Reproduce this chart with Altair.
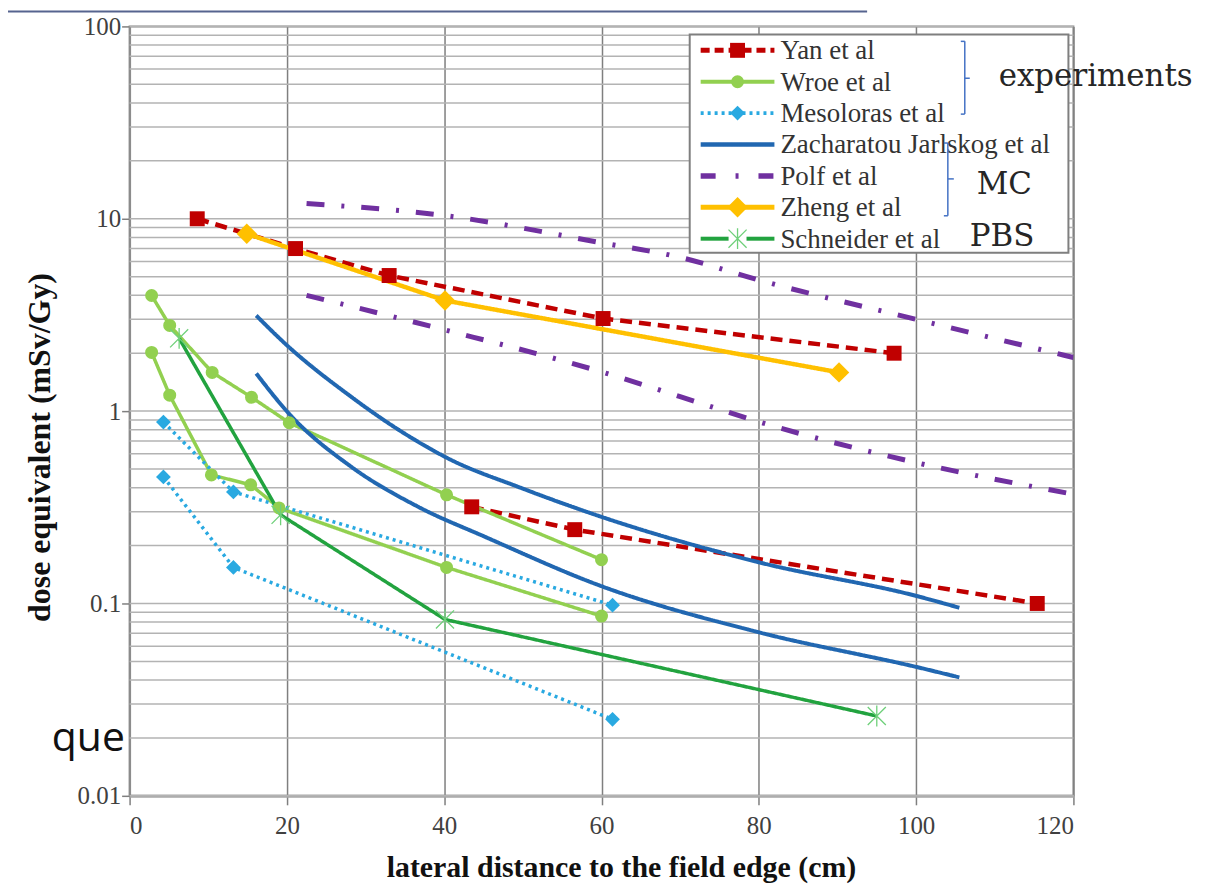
import altair as alt
import pandas as pd

# ---------------- data ----------------
series_names = ["Yan et al", "Wroe et al", "Mesoloras et al",
                "Zacharatou Jarlskog et al", "Polf et al", "Zheng et al",
                "Schneider et al"]

yan_a_x = [8.6, 21.1, 33.0, 60.2, 97.2]
yan_a_y = [10.0, 7.0, 5.07, 3.03, 2.0]
yan_b_x = [43.5, 56.6, 115.4]
yan_b_y = [0.318, 0.242, 0.10]

wroe_a_x = [2.8, 5.1, 10.5, 15.5, 20.3, 40.3, 60.0]
wroe_a_y = [3.99, 2.79, 1.59, 1.18, 0.87, 0.367, 0.169]
wroe_b_x = [2.8, 5.1, 10.4, 15.4, 19.0, 40.3, 60.0]
wroe_b_y = [2.02, 1.21, 0.466, 0.414, 0.314, 0.154, 0.086]

meso_a_x = [4.3, 13.2, 61.4]
meso_a_y = [0.877, 0.38, 0.098]
meso_b_x = [4.3, 13.2, 61.4]
meso_b_y = [0.455, 0.154, 0.025]

zach_a_x = [16.1, 20.0, 27.9, 34.2, 40.9, 49.4, 60.0, 80.2, 100.2, 105.5]
zach_a_y = [3.14, 2.2, 1.21, 0.80, 0.557, 0.404, 0.282, 0.163, 0.109, 0.095]
zach_b_x = [16.1, 20.2, 28.2, 36.7, 45.2, 60.0, 80.2, 100.2, 105.5]
zach_b_y = [1.57, 0.977, 0.513, 0.318, 0.222, 0.123, 0.0705, 0.0466, 0.0413]

polf_a_x = [22.5, 40.0, 60.0, 70.0, 80.0, 100.0, 120.0]
polf_a_y = [12.0, 10.4, 7.5, 6.3, 4.8, 3.0, 1.9]
polf_b_x = [22.5, 40.0, 60.0, 70.0, 80.0, 100.0, 120.0]
polf_b_y = [4.0, 2.65, 1.6, 1.19, 0.88, 0.54, 0.37]

zheng_x = [14.9, 40.1, 90.2]
zheng_y = [8.36, 3.76, 1.59]

schn_x = [6.3, 19.2, 40.1, 95.0]
schn_y = [2.39, 0.289, 0.0826, 0.026]

x_ticks = [0, 20, 40, 60, 80, 100, 120]
y_ticks = [0.01, 0.1, 1, 10, 100]
y_grid = [m * 10.0 ** e for e in (-2, -1, 0, 1) for m in range(1, 10)] + [100]

annot_experiments = "experiments"
annot_mc = "MC"
annot_pbs = "PBS"
annot_que = "que"

# ---------------- styles ----------------
colors = {"Yan et al": "#c00000", "Wroe et al": "#92d050",
          "Mesoloras et al": "#29a9e1", "Zacharatou Jarlskog et al": "#2167b1",
          "Polf et al": "#7030a0", "Zheng et al": "#ffc000",
          "Schneider et al": "#22a33f"}
dashes = {"Yan et al": [12, 7], "Wroe et al": [1, 0], "Mesoloras et al": [3, 4],
          "Zacharatou Jarlskog et al": [1, 0], "Polf et al": [18, 17, 3, 17],
          "Zheng et al": [1, 0], "Schneider et al": [1, 0]}
legend_dashes = {"Yan et al": [9, 5], "Polf et al": [15, 20, 3, 20]}
widths = {"Yan et al": 4.5, "Wroe et al": 3.5, "Mesoloras et al": 3.5,
          "Zacharatou Jarlskog et al": 4, "Polf et al": 5, "Zheng et al": 4.5,
          "Schneider et al": 3.5}
smooth = {"Zacharatou Jarlskog et al", "Polf et al"}
markers = {"Yan et al": ("square", 225), "Wroe et al": ("circle", 170),
           "Mesoloras et al": ("diamond", 220), "Zheng et al": ("diamond", 420),
           "Schneider et al": ("asterisk", 330)}
ASTERISK = "M-1,-1L1,1M-1,1L1,-1M0,-1.15L0,1.15"

segments = [
    ("Yan et al", "a", yan_a_x, yan_a_y), ("Yan et al", "b", yan_b_x, yan_b_y),
    ("Wroe et al", "a", wroe_a_x, wroe_a_y), ("Wroe et al", "b", wroe_b_x, wroe_b_y),
    ("Mesoloras et al", "a", meso_a_x, meso_a_y), ("Mesoloras et al", "b", meso_b_x, meso_b_y),
    ("Zacharatou Jarlskog et al", "a", zach_a_x, zach_a_y),
    ("Zacharatou Jarlskog et al", "b", zach_b_x, zach_b_y),
    ("Polf et al", "a", polf_a_x, polf_a_y), ("Polf et al", "b", polf_b_x, polf_b_y),
    ("Zheng et al", "a", zheng_x, zheng_y),
    ("Schneider et al", "a", schn_x, schn_y),
]
rows = []
for name, seg, xs, ys in segments:
    for xv, yv in zip(xs, ys):
        rows.append({"series": name, "seg": name + seg, "x": xv, "y": yv})
df = pd.DataFrame(rows)

SERIF = "Liberation Serif"

x_axis = alt.Axis(values=x_ticks, title="lateral distance to the field edge (cm)",
                  labelFont=SERIF, labelFontSize=25, labelColor="#404040",
                  labelPadding=9, tickSize=9, tickColor="#7f7f7f", tickWidth=1.5,
                  grid=True, gridColor="#7f7f7f", gridWidth=1.5,
                  domainColor="#a6a6a6", domainWidth=3,
                  titleFont=SERIF, titleFontSize=30, titleFontWeight="bold",
                  titleColor="#111111", titleX=493, titleY=72,
                  titleAlign="center", titleBaseline="middle")
y_axis = alt.Axis(values=y_ticks, format="~g", title="dose equivalent (mSv/Gy)",
                  labelFont=SERIF, labelFontSize=25, labelColor="#404040",
                  labelPadding=1, tickSize=8, tickColor="#7f7f7f", tickWidth=1.5,
                  grid=False, domainColor="#8c8c8c", domainWidth=2,
                  titleFont=SERIF, titleFontSize=32, titleFontWeight="bold",
                  titleColor="#111111", titleX=-90, titleY=422, titleAngle=270,
                  titleAlign="center", titleBaseline="middle")
x_scale = alt.Scale(domain=[0, 120], nice=False, zero=False)
y_scale = alt.Scale(type="log", domain=[0.01, 100], nice=False)

layers = []

# horizontal grid lines (log decades with 1..9 subdivisions)
grid_df = pd.DataFrame({"y": y_grid})
layers.append(alt.Chart(grid_df).mark_rule(color="#b3b3b3", strokeWidth=1.5).encode(
    y=alt.Y("y:Q", scale=y_scale, axis=y_axis)))

# series lines
for name in series_names:
    sub = df[df.series == name]
    layers.append(alt.Chart(sub).mark_line(
        color=colors[name], strokeDash=dashes[name], strokeWidth=widths[name],
        interpolate="monotone" if name in smooth else "linear", clip=True
    ).encode(x=alt.X("x:Q", scale=x_scale, axis=x_axis),
             y=alt.Y("y:Q", scale=y_scale, axis=y_axis),
             detail="seg:N"))

# series markers
for name in series_names:
    if name not in markers:
        continue
    shape, size = markers[name]
    sub = df[df.series == name]
    if shape == "asterisk":
        mk = alt.Chart(sub).mark_point(shape=ASTERISK, size=size, filled=False,
                                       stroke="#6fd07a", strokeWidth=1.3, opacity=1)
    else:
        mk = alt.Chart(sub).mark_point(shape=shape, size=size, filled=True,
                                       color=colors[name], opacity=1)
    layers.append(mk.encode(x=alt.X("x:Q", scale=x_scale, axis=x_axis),
                            y=alt.Y("y:Q", scale=y_scale, axis=y_axis)))

# ---------------- legend box ----------------
one = pd.DataFrame({"k": [0]})
layers.append(alt.Chart(one).mark_rect(fill="white", stroke="#7f7f7f", strokeWidth=2).encode(
    x=alt.value(562), x2=alt.value(942), y=alt.value(8), y2=alt.value(227)))

LX0, LX1, LXM, LXT = 573, 647, 610, 653
for i, name in enumerate(series_names):
    ly = 24 + i * 31.5
    if name == "Schneider et al":
        for a, b in ((LX0, LXM - 9), (LXM + 9, LX1)):
            layers.append(alt.Chart(one).mark_rule(
                color=colors[name], strokeWidth=widths[name] + 0.5).encode(
                x=alt.value(a), x2=alt.value(b), y=alt.value(ly)))
    else:
        ldash = legend_dashes.get(name, dashes[name])
        layers.append(alt.Chart(one).mark_rule(
            color=colors[name], strokeWidth=widths[name] + 0.5, strokeDash=ldash).encode(
            x=alt.value(LX0), x2=alt.value(LX1), y=alt.value(ly)))
    if name in markers:
        shape, size = markers[name]
        if shape == "asterisk":
            mk = alt.Chart(one).mark_point(shape=ASTERISK, size=size, filled=False,
                                           stroke="#6fd07a", strokeWidth=1.3, opacity=1)
        else:
            mk = alt.Chart(one).mark_point(shape=shape, size=size, filled=True,
                                           color=colors[name], opacity=1)
        layers.append(mk.encode(x=alt.value(LXM), y=alt.value(ly)))
    layers.append(alt.Chart(pd.DataFrame({"t": [name]})).mark_text(
        font=SERIF, fontSize=27, color="#333333", align="left", baseline="middle"
    ).encode(x=alt.value(LXT), y=alt.value(ly + 1), text="t:N"))

# ---------------- annotations ----------------
BR = "#4472c4"
def rule_h(x0, x1, y, color=BR, w=1.5):
    return alt.Chart(one).mark_rule(color=color, strokeWidth=w).encode(
        x=alt.value(x0), x2=alt.value(x1), y=alt.value(y))

def rule_v(x, y0, y1, color=BR, w=1.5):
    return alt.Chart(one).mark_rule(color=color, strokeWidth=w).encode(
        x=alt.value(x), y=alt.value(y0), y2=alt.value(y1))

layers += [rule_v(838, 15, 88), rule_h(834, 838, 15), rule_h(834, 838, 88), rule_h(838, 843, 52),
           rule_v(821, 117, 190), rule_h(817, 821, 117), rule_h(817, 821, 190), rule_h(821, 827, 153)]

def label(t, x, y, font, size, color="#262626"):
    return alt.Chart(pd.DataFrame({"t": [t]})).mark_text(
        font=font, fontSize=size, color=color, align="left", baseline="alphabetic"
    ).encode(x=alt.value(x), y=alt.value(y), text="t:N")

layers += [label(annot_experiments, 872, 60, "DejaVu Serif", 31),
           label(annot_mc, 850, 168, "DejaVu Serif", 31),
           label(annot_pbs, 843, 220, "DejaVu Serif", 31),
           label(annot_que, -78, 727, "Open Sans", 41, "#111111")]

# slide line above the chart
layers.append(rule_h(-122, 740, -15, color="#56648f", w=2))

chart = alt.layer(*layers).properties(
    width=947, height=772,
    autosize=alt.AutoSizeParams(type="none"),
    padding={"left": 122, "top": 17, "right": 125, "bottom": 90},
    background="white",
).configure_view(stroke="#8c8c8c", strokeWidth=2)

chart.save("out.html", embed_options={"renderer": "svg", "actions": False})
